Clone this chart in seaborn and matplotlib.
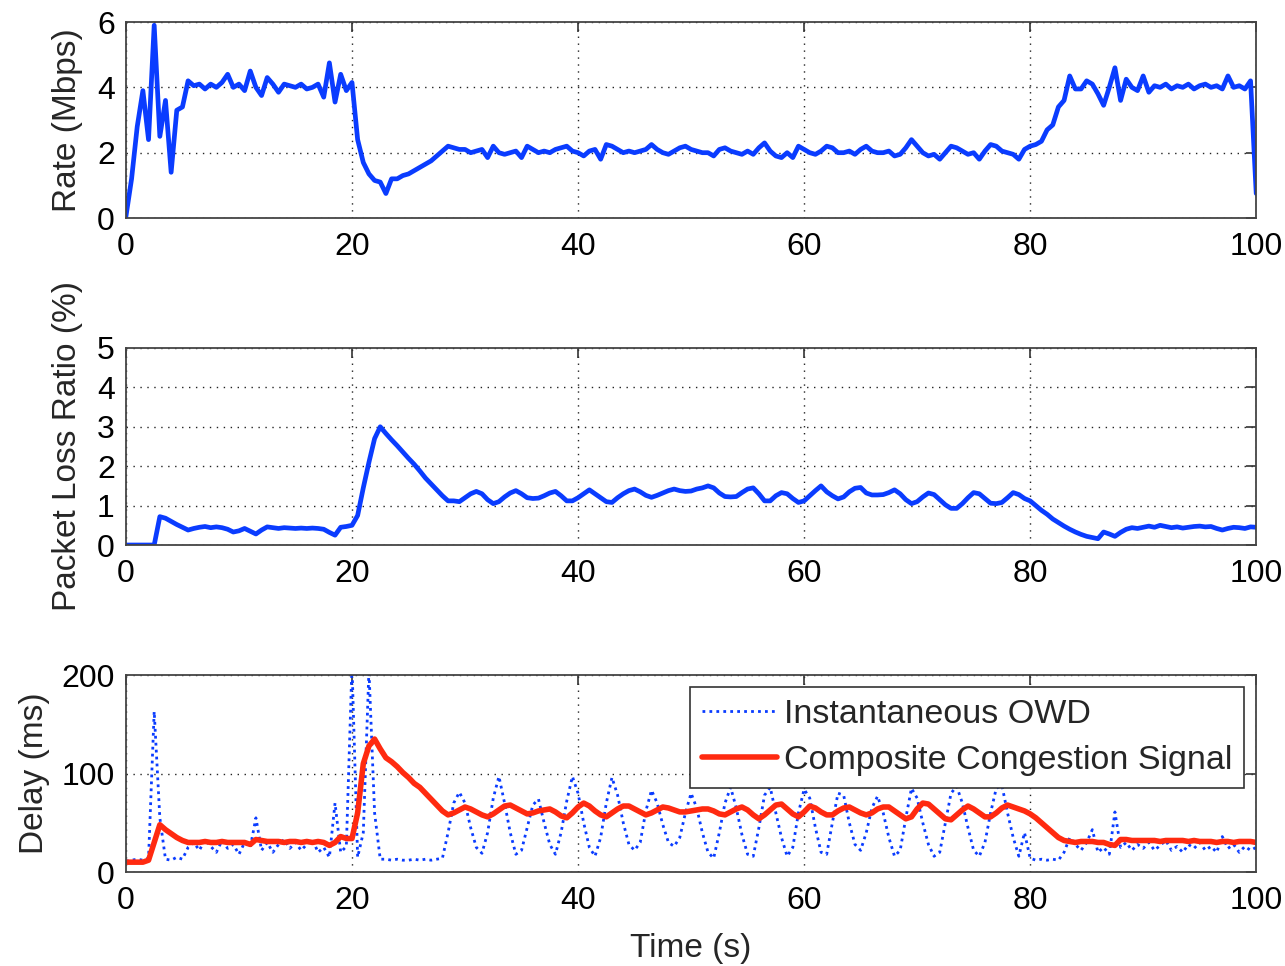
import numpy as np
import pandas as pd
import matplotlib
matplotlib.use("Agg")
import matplotlib.pyplot as plt
import seaborn as sns

# ---------------- data (sampled every 0.5 s, 0..100 s) ----------------
time_s = np.linspace(0, 100, 201)

rate_mbps = [
    0.05, 1.2, 2.8, 3.9, 2.4, 5.9, 2.5, 3.6, 1.4, 3.3,
    3.4, 4.2, 4.05, 4.1, 3.95, 4.1, 4.0, 4.15, 4.4, 4.0,
    4.1, 3.9, 4.5, 4.0, 3.75, 4.3, 4.1, 3.85, 4.1, 4.05,
    4.0, 4.1, 3.95, 4.0, 4.1, 3.7, 4.75, 3.55, 4.4, 3.9,
    4.15, 2.4, 1.7, 1.35, 1.15, 1.1, 0.75, 1.2, 1.2, 1.3,
    1.35, 1.45, 1.55, 1.65, 1.75, 1.9, 2.05, 2.2, 2.15, 2.1,
    2.1, 2.0, 2.05, 2.1, 1.85, 2.2, 2.0, 1.95, 2.0, 2.05,
    1.85, 2.2, 2.1, 2.0, 2.05, 2.0, 2.1, 2.15, 2.2, 2.05,
    2.0, 1.9, 2.05, 2.1, 1.8, 2.25, 2.2, 2.1, 2.0, 2.05,
    2.0, 2.05, 2.1, 2.25, 2.1, 2.0, 1.95, 2.05, 2.15, 2.2,
    2.1, 2.05, 2.0, 2.0, 1.9, 2.1, 2.15, 2.05, 2.0, 1.95,
    2.05, 1.95, 2.15, 2.3, 2.05, 1.9, 1.85, 2.0, 1.85, 2.2,
    2.1, 2.0, 1.95, 2.05, 2.2, 2.15, 2.0, 2.0, 2.05, 1.95,
    2.1, 2.2, 2.05, 2.0, 2.0, 2.05, 1.9, 1.95, 2.15, 2.4,
    2.2, 2.0, 1.9, 1.95, 1.8, 2.0, 2.2, 2.15, 2.05, 1.95,
    2.0, 1.8, 2.05, 2.25, 2.2, 2.05, 2.0, 1.95, 1.8, 2.1,
    2.2, 2.25, 2.35, 2.7, 2.85, 3.4, 3.6, 4.35, 3.95, 3.95,
    4.2, 4.1, 3.8, 3.45, 4.0, 4.6, 3.6, 4.25, 4.0, 3.9,
    4.35, 3.85, 4.05, 4.0, 4.1, 3.95, 4.05, 4.0, 4.1, 3.95,
    4.05, 4.1, 4.0, 4.05, 3.95, 4.35, 4.0, 4.05, 3.95, 4.2,
    0.75,
]

loss_pct = [
    0.0, 0.0, 0.0, 0.0, 0.0, 0.0, 0.72, 0.68, 0.6, 0.52,
    0.45, 0.38, 0.42, 0.45, 0.47, 0.44, 0.46, 0.44, 0.4, 0.33,
    0.36, 0.42, 0.35, 0.28, 0.38, 0.46, 0.44, 0.42, 0.44, 0.43,
    0.42, 0.43, 0.42, 0.43, 0.42, 0.4, 0.32, 0.25, 0.45, 0.47,
    0.5, 0.75, 1.45, 2.1, 2.7, 3.0, 2.83, 2.67, 2.52, 2.36,
    2.2, 2.05, 1.88, 1.7, 1.55, 1.4, 1.25, 1.12, 1.12, 1.1,
    1.2, 1.3, 1.36, 1.3, 1.15, 1.05, 1.1, 1.22, 1.32, 1.38,
    1.3, 1.2, 1.18, 1.19, 1.25, 1.32, 1.36, 1.25, 1.12, 1.12,
    1.2, 1.3, 1.4, 1.3, 1.2, 1.1, 1.08, 1.2, 1.3, 1.38,
    1.42, 1.35, 1.26, 1.21, 1.26, 1.32, 1.38, 1.42, 1.38, 1.36,
    1.37, 1.42, 1.45, 1.5, 1.45, 1.32, 1.23, 1.22, 1.23, 1.33,
    1.42, 1.45, 1.3, 1.12, 1.12, 1.25, 1.33, 1.3, 1.18, 1.08,
    1.12, 1.25, 1.38, 1.5, 1.35, 1.25, 1.17, 1.22, 1.35, 1.44,
    1.46, 1.32, 1.27, 1.27, 1.28, 1.33, 1.4, 1.3, 1.15, 1.05,
    1.1, 1.22, 1.32, 1.28, 1.15, 1.02, 0.93, 0.93, 1.05, 1.2,
    1.33, 1.3, 1.18, 1.06, 1.05, 1.08, 1.2, 1.33, 1.28, 1.18,
    1.12, 1.0, 0.88, 0.78, 0.66, 0.57, 0.48, 0.4, 0.33, 0.27,
    0.22, 0.19, 0.16, 0.33, 0.28, 0.22, 0.32, 0.4, 0.44, 0.42,
    0.45, 0.48, 0.45, 0.5, 0.47, 0.44, 0.46, 0.43, 0.45, 0.47,
    0.48, 0.46, 0.47, 0.42, 0.38, 0.42, 0.45, 0.44, 0.42, 0.46,
    0.45,
]

owd_ms = [
    11, 12, 13, 12, 14, 163, 55, 13, 12, 15,
    13, 25, 30, 22, 33, 26, 20, 32, 24, 28,
    18, 30, 25, 55, 22, 30, 20, 28, 33, 24,
    30, 22, 28, 33, 20, 25, 15, 70, 20, 26,
    210, 15, 40, 205, 60, 13, 13, 12, 13, 12,
    12, 13, 12, 13, 12, 13, 14, 40, 70, 81,
    70, 45, 25, 19, 40, 75, 97, 70, 40, 18,
    22, 45, 68, 74, 50, 28, 18, 40, 72, 97,
    80, 50, 25, 16, 35, 70, 96, 78, 50, 28,
    22, 30, 62, 83, 70, 48, 30, 26, 35, 60,
    80, 65, 40, 20, 14, 40, 70, 86, 65, 38,
    18, 16, 45, 78, 86, 60, 35, 16, 25, 60,
    84, 75, 45, 20, 18, 50, 80, 78, 50, 28,
    22, 40, 65, 77, 60, 35, 16, 22, 55, 85,
    75, 50, 28, 16, 20, 50, 80, 87, 70, 45,
    22, 16, 30, 60, 85, 88, 60, 35, 16, 40,
    14, 12, 13, 12, 13, 12, 20, 35, 28, 22,
    30, 43, 20, 25, 18, 61, 25, 30, 22, 28,
    24, 30, 22, 27, 32, 22, 26, 20, 28, 24,
    30, 22, 26, 20, 36, 24, 28, 20, 26, 22,
    25,
]

composite_ms = [
    10, 10, 10, 10, 12, 30, 48, 43, 39, 35,
    32, 30, 30, 30, 31, 30, 30, 31, 30, 30,
    30, 30, 28, 33, 32, 31, 31, 31, 30, 31,
    31, 30, 31, 30, 31, 30, 27, 30, 36, 34,
    34, 60, 110, 128, 135, 125, 116, 112, 107, 101,
    96, 90, 86, 80, 74, 68, 62, 58, 60, 63,
    66, 64, 61, 58, 56, 59, 63, 67, 68, 65,
    62, 59, 60, 62, 63, 64, 61, 57, 55, 60,
    66, 70, 67, 62, 58, 56, 60, 64, 67, 67,
    64, 61, 58, 60, 63, 66, 65, 63, 61, 61,
    62, 63, 64, 64, 62, 59, 58, 61, 64, 66,
    63, 58, 54, 58, 63, 68, 69, 64, 59, 56,
    61, 67, 65, 61, 58, 58, 62, 65, 66, 63,
    60, 58, 60, 64, 66, 66, 62, 58, 54, 56,
    64, 70, 69, 64, 59, 54, 53, 58, 63, 67,
    64, 60, 56, 56, 60, 65, 68, 66, 64, 62,
    59, 55, 50, 45, 40, 35, 32, 31, 30, 31,
    31, 31, 30, 30, 28, 27, 33, 33, 32, 32,
    32, 32, 32, 31, 32, 32, 32, 32, 31, 32,
    31, 31, 31, 30, 31, 31, 30, 31, 31, 31,
    30,
]

x_ticks = [0, 20, 40, 60, 80, 100]
rate_ticks = [0, 2, 4, 6]
loss_ticks = [0, 1, 2, 3, 4, 5]
delay_ticks = [0, 100, 200]

# ---------------- style ----------------
sns.set_theme(style="white")
plt.rcParams["font.family"] = ["Liberation Sans", "DejaVu Sans"]
FS = 23
LFS = 24

BLUE = "#0a3cff"
RED = "#ff2a10"

fig = plt.figure(figsize=(12.85, 9.66), dpi=100)
left, width = 0.098, 0.8796
ax1 = fig.add_axes([left, 0.7743, width, 0.2029])
ax2 = fig.add_axes([left, 0.4358, width, 0.2040])
ax3 = fig.add_axes([left, 0.0973, width, 0.2039])

df = pd.DataFrame({"t": time_s, "rate": rate_mbps, "loss": loss_pct,
                   "owd": owd_ms, "comp": composite_ms})

sns.lineplot(data=df, x="t", y="rate", ax=ax1, color=BLUE, lw=3.4,
             estimator=None, sort=False)
sns.lineplot(data=df, x="t", y="loss", ax=ax2, color=BLUE, lw=3.4,
             estimator=None, sort=False)
sns.lineplot(data=df, x="t", y="owd", ax=ax3, color=BLUE, lw=2.0,
             linestyle=(0, (1.0, 1.5)), estimator=None, sort=False,
             label="Instantaneous OWD")
sns.lineplot(data=df, x="t", y="comp", ax=ax3, color=RED, lw=4.0,
             estimator=None, sort=False, label="Composite Congestion Signal")


def style_axes(ax, yticks, ylim, ylabel, labelpad):
    ax.set_xlim(0, 100)
    ax.set_ylim(*ylim)
    ax.set_xticks(x_ticks)
    ax.set_yticks(yticks)
    ax.set_xlabel("")
    ax.set_ylabel(ylabel, fontsize=LFS, labelpad=labelpad)
    ax.grid(True, linestyle=(0, (1, 4)), color="#222222", lw=1.0)
    ax.tick_params(axis="both", which="both", direction="in", length=7,
                   width=1.2, labelsize=FS, top=True, right=True,
                   colors="#333333", labelcolor="black")
    ax.tick_params(axis="x", pad=10)
    ax.tick_params(axis="y", pad=8)
    for sp in ax.spines.values():
        sp.set_color("#444444")
        sp.set_linewidth(1.3)
        sp.set_visible(True)
    ax.set_facecolor("white")


style_axes(ax1, rate_ticks, (0, 6), "Rate (Mbps)", 10)
style_axes(ax2, loss_ticks, (0, 5), "Packet Loss Ratio (%)", 10)
style_axes(ax3, delay_ticks, (0, 200), "Delay (ms)", 8)
ax3.set_xlabel("Time (s)", fontsize=LFS, labelpad=12)

leg = ax3.legend(loc="upper right", fontsize=24.5, frameon=True, fancybox=False,
                 edgecolor="#333333", framealpha=1.0, handlelength=2.2,
                 borderpad=0.35, labelspacing=0.45, handletextpad=0.2,
                 borderaxespad=0.35)
leg.get_frame().set_linewidth(1.2)

fig.savefig("out.png", dpi=100, facecolor="white")
